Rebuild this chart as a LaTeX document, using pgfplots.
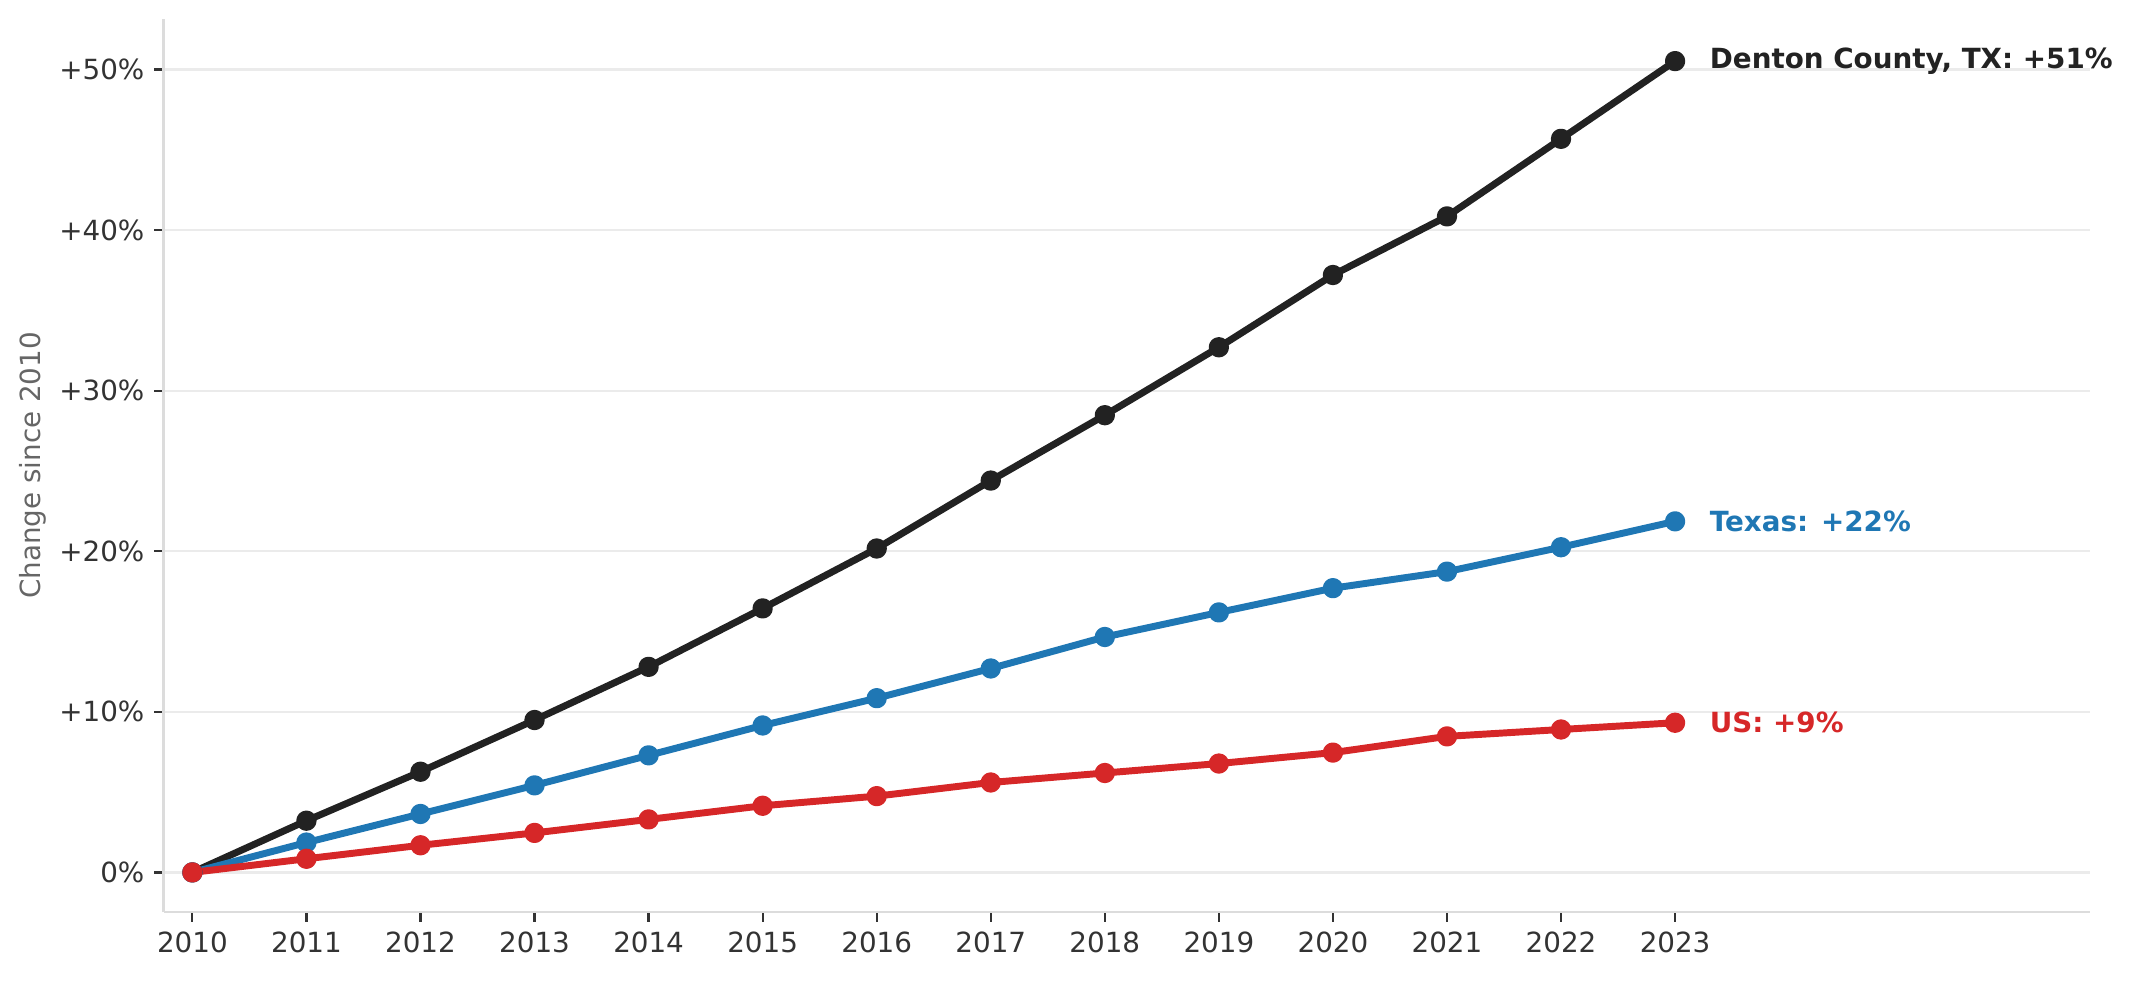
\documentclass[border=0pt]{standalone}
\usepackage{pgfplots}
\usepackage{pgfplotstable}
\pgfplotsset{compat=1.18}
\usepackage{fontspec}
\setmainfont{DejaVu Sans}

\definecolor{cDenton}{HTML}{222222}
\definecolor{cTexas}{HTML}{1F77B4}
\definecolor{cUS}{HTML}{D62728}
\definecolor{spinegray}{HTML}{DCDCDC}
\definecolor{gridgray}{HTML}{EBEBEB}
\definecolor{ticklab}{HTML}{333333}
\definecolor{labgray}{HTML}{666666}

% Population change since 2010, in percent
\pgfplotstableread{
year denton texas us
2010 0.00  0.00  0.00
2011 3.22  1.86  0.85
2012 6.27  3.64  1.69
2013 9.49  5.42  2.46
2014 12.80 7.29  3.30
2015 16.44 9.15  4.15
2016 20.17 10.85 4.75
2017 24.40 12.70 5.60
2018 28.47 14.66 6.19
2019 32.70 16.19 6.78
2020 37.20 17.70 7.46
2021 40.85 18.73 8.47
2022 45.68 20.25 8.90
2023 50.52 21.86 9.32
}\growth

\begin{document}
\begin{tikzpicture}
\useasboundingbox (0,0) rectangle (768pt,353.2pt);
\begin{axis}[
  at={(59pt,24.8pt)}, anchor=south west,
  scale only axis, width=693.6pt, height=321.6pt,
  xmin=2009.75, xmax=2026.64, ymin=-2.47, ymax=53.15,
  axis x line*=bottom, axis y line*=left,
  axis line style={-, spinegray, line width=1pt},
  tick align=outside, major tick length=3.5pt,
  tick style={color=ticklab, line width=0.8pt},
  xtick={2010,2011,2012,2013,2014,2015,2016,2017,2018,2019,2020,2021,2022,2023},
  xticklabels={2010,2011,2012,2013,2014,2015,2016,2017,2018,2019,2020,2021,2022,2023},
  ytick={0,10,20,30,40,50},
  yticklabels={0\%,+10\%,+20\%,+30\%,+40\%,+50\%},
  tick label style={font=\fontsize{10}{12}\selectfont, text=ticklab},
  ymajorgrids, major grid style={gridgray, line width=0.8pt},
  ylabel={Change since 2010},
  ylabel style={font=\fontsize{10}{12}\selectfont, text=labgray,
    at={(axis description cs:-0.0679,0.5)}, anchor=center},
  clip=false,
  every axis plot/.append style={line width=2.5pt, line join=round,
    mark=*, mark size=2.4pt, mark options={solid, draw=none}},
]
\addplot[cDenton, mark options={fill=cDenton}] table[x=year, y=denton] {\growth};
\addplot[cTexas, mark options={fill=cTexas}] table[x=year, y=texas] {\growth};
\addplot[cUS, mark options={fill=cUS}] table[x=year, y=us] {\growth};

\node[anchor=west, text=cDenton, font=\fontsize{10}{12}\selectfont\bfseries, inner sep=0pt]
  at (axis cs:2023.3,50.52) {Denton County, TX: +51\%};
\node[anchor=west, text=cTexas, font=\fontsize{10}{12}\selectfont\bfseries, inner sep=0pt]
  at (axis cs:2023.3,21.86) {Texas: +22\%};
\node[anchor=west, text=cUS, font=\fontsize{10}{12}\selectfont\bfseries, inner sep=0pt]
  at (axis cs:2023.3,9.32) {US: +9\%};
\end{axis}
\end{tikzpicture}
\end{document}
